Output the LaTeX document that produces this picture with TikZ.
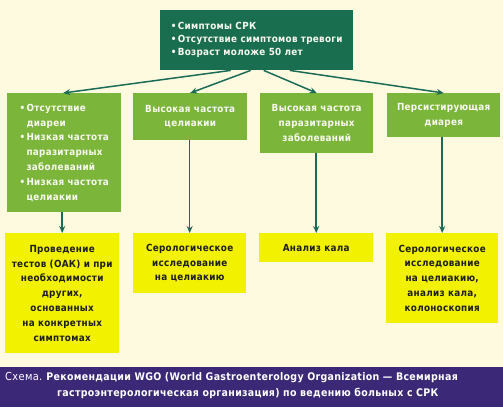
\documentclass[tikz,border=0pt]{standalone}
\usepackage{fontspec}
\setmainfont{DejaVu Sans Condensed}[BoldFont={DejaVu Sans Condensed Bold}, LetterSpace=3]
\usetikzlibrary{arrows.meta,calc}
\definecolor{bgc}{HTML}{FDFADF}
\definecolor{dgreen}{HTML}{1A6E50}
\definecolor{lgreen}{HTML}{7BB63B}
\definecolor{yel}{HTML}{F2F200}
\definecolor{purp}{HTML}{3B2877}
\definecolor{linec}{HTML}{1C6B57}
\definecolor{dtext}{HTML}{1E1E1E}
\definecolor{wtext}{HTML}{F8F8F0}
\tikzset{
  topbox/.style={fill=dgreen, text=wtext, anchor=north west, inner sep=0pt, align=left,
    font=\bfseries\fontsize{9.8}{13}\selectfont},
  gbox/.style={fill=lgreen, text=wtext, anchor=north west, inner sep=0pt, align=center,
    font=\bfseries\fontsize{9.8}{14.8}\selectfont},
  ybox/.style={fill=yel, text=dtext, anchor=north west, inner sep=0pt, align=center,
    font=\bfseries\fontsize{9.8}{14.8}\selectfont},
  conn/.style={draw=linec, line width=1.5pt, -{Stealth[length=7pt,width=6pt]}},
}
\newcommand{\bul}{\makebox[7pt][l]{•}}
\newcommand{\ind}{\hspace*{7pt}}
\begin{document}
\begin{tikzpicture}[x=1pt,y=-1pt]
\fill[bgc] (0,0) rectangle (503,407);
\useasboundingbox (0,0) rectangle (503,407);
% top
\node[topbox, minimum width=193pt, minimum height=60pt] (top) at (160,10)
  {\bul Симптомы СРК\\ \bul Отсутствие симптомов тревоги\\ \bul Возраст моложе 50 лет};
% green row
\node[gbox, minimum width=114pt, minimum height=119pt, align=left] (g1) at (7,93)
  {\bul Отсутствие\\ \ind диареи\\ \bul Низкая частота\\ \ind паразитарных\\ \ind заболеваний\\ \bul Низкая частота\\ \ind целиакии};
\node[gbox, minimum width=114pt, minimum height=47pt] (g2) at (133,93)
  {Высокая частота\\ целиакии};
\node[gbox, minimum width=113pt, minimum height=60pt] (g3) at (260,93)
  {Высокая частота\\ паразитарных\\ заболеваний};
\node[gbox, minimum width=113pt, minimum height=44pt] (g4) at (387,93)
  {Персистирующая\\ диарея};
% yellow row
\node[ybox, minimum width=114pt, minimum height=120pt] (y1) at (5,233)
  {Проведение\\ тестов (ОАК) и при\\ необходимости\\ других,\\ основанных\\ на конкретных\\ симптомах};
\node[ybox, minimum width=113pt, minimum height=60pt] (y2) at (133,233)
  {Серологическое\\ исследование\\ на целиакию};
\node[ybox, minimum width=114pt, minimum height=29pt] (y3) at (259,233)
  {Анализ кала};
\node[ybox, minimum width=112pt, minimum height=90pt] (y4) at (386,233)
  {Серологическое\\ исследование\\ на целиакию,\\ анализ кала,\\ колоноскопия};
% arrows from top
\draw[conn] ([xshift=-26pt]top.south) -- ([xshift=-1pt]g1.north);
\draw[conn] ([xshift=-6pt]top.south) -- (g2.north);
\draw[conn] ([xshift=7pt]top.south) -- (g3.north);
\draw[conn] ([xshift=33pt]top.south) -- (g4.north);
% vertical
\draw[conn] (g1.south -| y1.north) -- (y1.north);
\draw[conn] (g2.south -| y2.north) -- (y2.north);
\draw[conn] (g3.south -| y3.north) -- (y3.north);
\draw[conn] (g4.south -| y4.north) -- (y4.north);
% caption bar
\fill[purp] (0,367) rectangle (503,407);
\node[anchor=west, text=white, inner sep=0pt, font=\fontsize{10.5}{12}\selectfont] (cap1) at (5,378)
  {\fontsize{11}{12}\selectfont Схема.\hspace{4pt}\fontsize{10.5}{12}\selectfont\bfseries Рекомендации WGO (World Gastroenterology Organization — Всемирная};
\node[anchor=west, text=white, inner sep=0pt, font=\bfseries\fontsize{10.5}{12}\selectfont] (cap2) at (57,393)
  {гастроэнтерологическая организация) по ведению больных с СРК};
\end{tikzpicture}
\end{document}
